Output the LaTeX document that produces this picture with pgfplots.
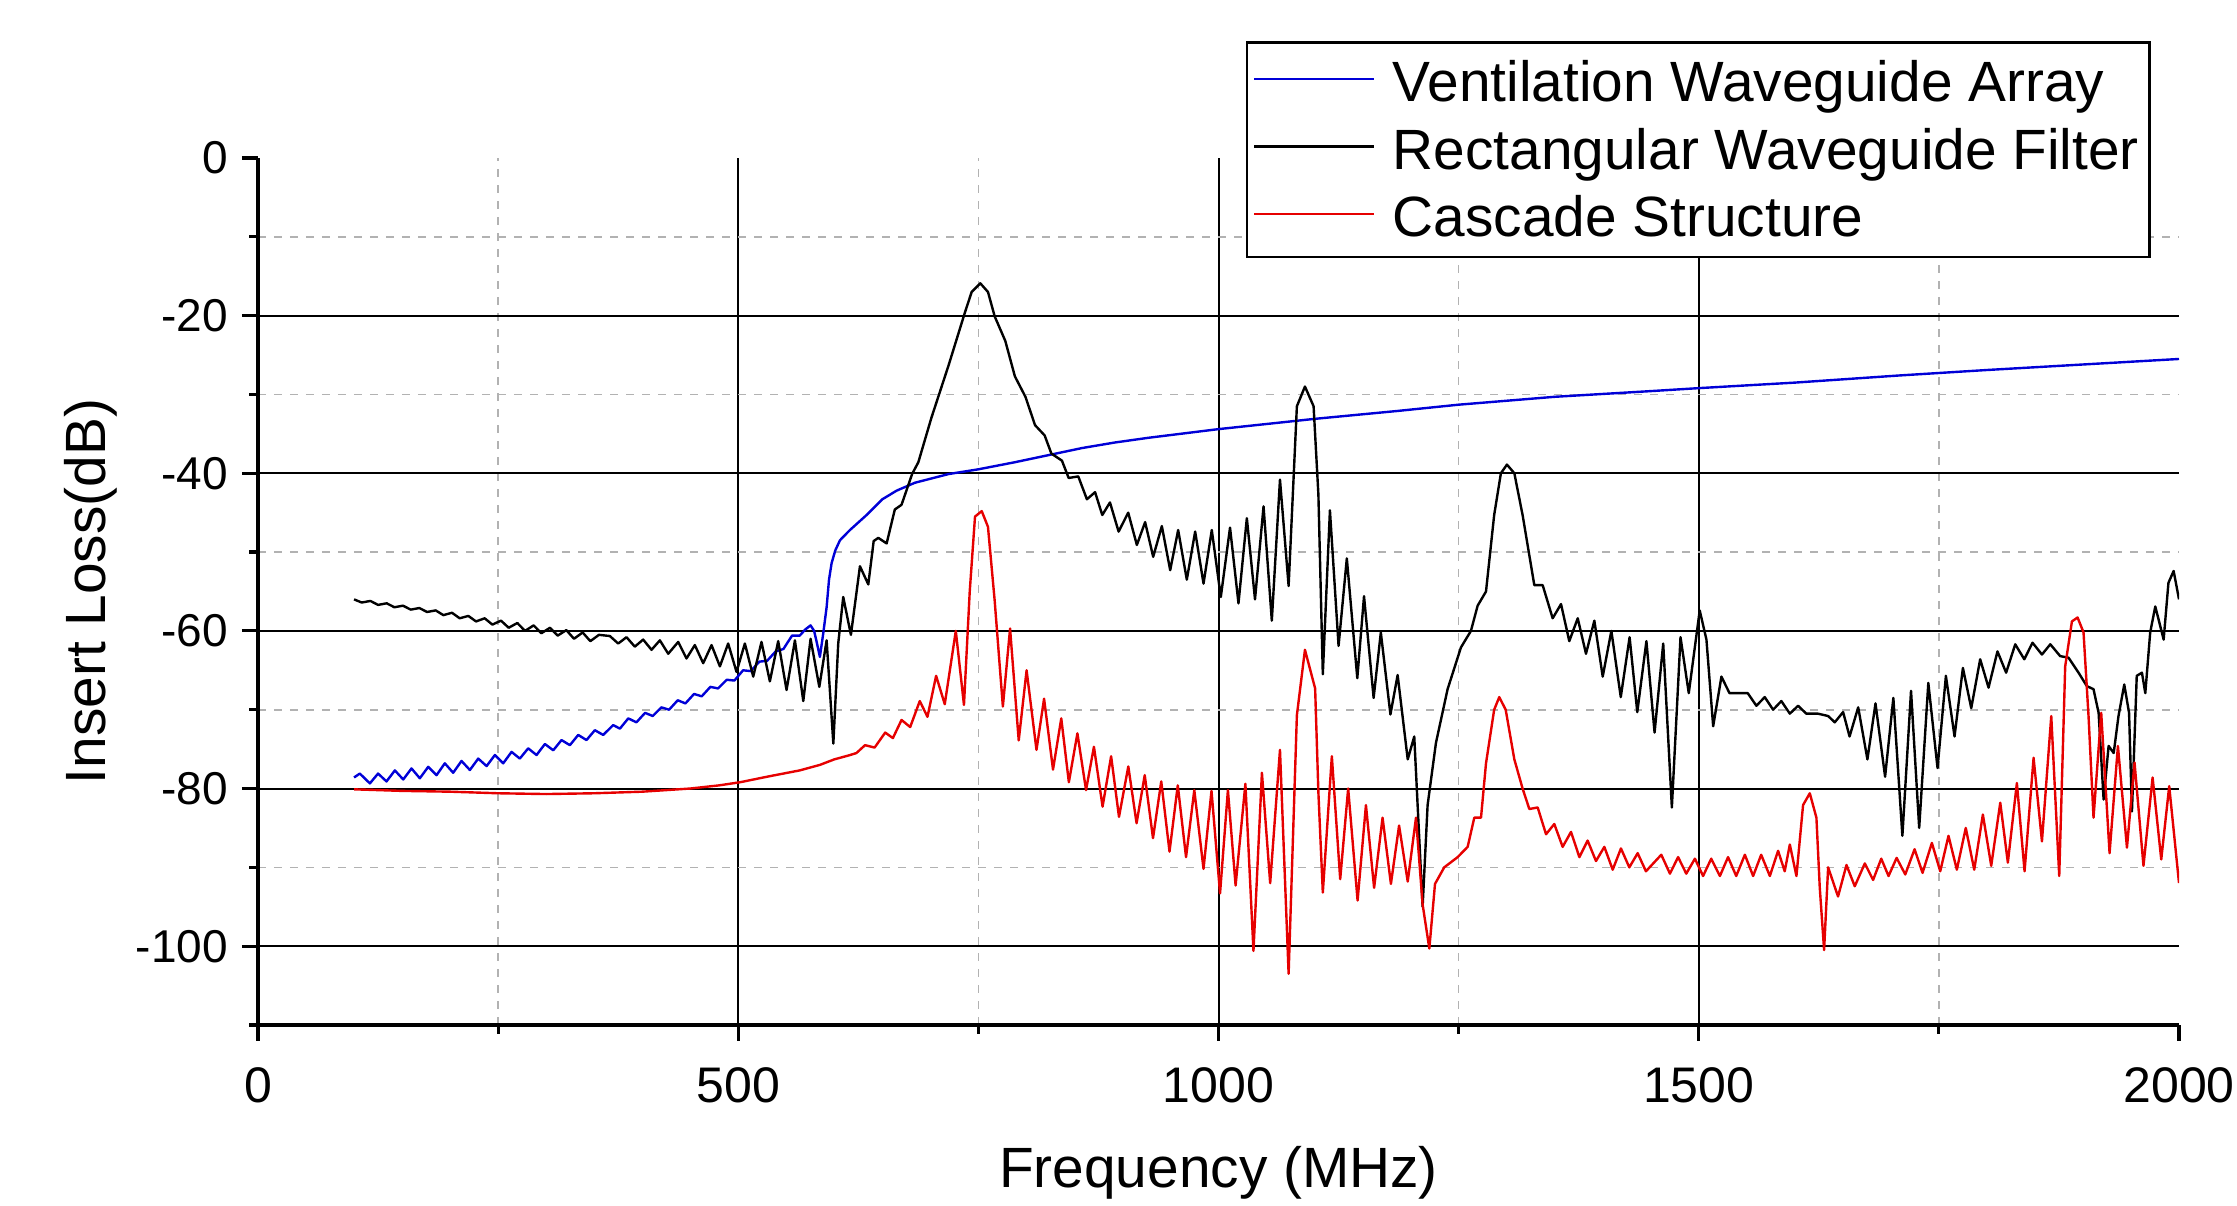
\documentclass[border=0pt]{standalone}
\usepackage{fontspec}
\setmainfont{Liberation Sans}
\usepackage{pgfplots}
\pgfplotsset{compat=1.18}
\definecolor{vwa}{RGB}{0,0,215}
\definecolor{cas}{RGB}{230,0,0}

\begin{document}
\begin{tikzpicture}
\begin{axis}[
    scale only axis,
    width=480.25pt, height=216.75pt,
    xmin=0, xmax=2000, ymin=-110, ymax=0,
    axis lines=left,
    axis line style={-, line width=1.1pt},
    tick align=outside,
    tick style={black, line width=0.8pt},
    major tick length=4pt, minor tick length=2.2pt,
    xtick={500,1000,1500}, extra x ticks={0,2000},
    ytick={-100,-80,-60,-40,-20}, extra y ticks={0},
    extra tick style={grid=none},
    minor xtick={250,750,1250,1750},
    minor ytick={-110,-90,-70,-50,-30,-10},
    grid=both,
    major grid style={black, line width=0.5pt},
    minor grid style={gray!60, dash pattern=on 2pt off 2pt, line width=0.4pt},
    /pgf/number format/assume math mode=true,
    /pgf/number format/1000 sep={},
    xticklabel style={font=\fontsize{12.5}{14}\selectfont, yshift=-3pt},
    yticklabel style={font=\fontsize{11.5}{13}\selectfont},
    label style={font=\fontsize{14.2}{17}\selectfont},
    xlabel={Frequency (MHz)},
    ylabel={Insert Loss(dB)},
    xlabel shift=-4pt,
    ylabel shift=-10.3pt,
    legend style={draw=black, line width=0.6pt, fill=white,
        at={(1,1)}, anchor=north east, xshift=-7.1pt, yshift=29.2pt,
        font=\fontsize{14.2}{17}\selectfont,
        inner sep=1.6pt, row sep=0.3pt,
        nodes={inner sep=1pt, text height=12.2pt, text depth=2.4pt},
        /tikz/every odd column/.append style={column sep=3.3pt}},
    legend cell align=left,
    legend image code/.code={\draw[#1] (0pt,0.8pt) -- (30pt,0.8pt);},
    every axis plot/.append style={line width=0.6pt, line join=round},
]
% Ventilation Waveguide Array
\addplot[color=vwa] coordinates {
(100,-78.6) (106,-78.1) (116.5,-79.35) (125,-78.1) (133.8,-79.1) (142.5,-77.7)
(151.2,-78.85) (159.8,-77.45) (168.5,-78.7) (177.2,-77.25) (185.9,-78.3) (194.5,-76.8)
(203.2,-78.0) (211.9,-76.5) (220.6,-77.65) (229.3,-76.2) (238,-77.15) (246.6,-75.75)
(255.3,-76.8) (264,-75.35) (272.6,-76.2) (281.3,-74.9) (290,-75.75) (298.7,-74.35)
(307.4,-75.15) (316,-73.85) (324.7,-74.5) (333.4,-73.2) (342,-73.85) (350.7,-72.6)
(359.4,-73.2) (369.8,-71.95) (376.8,-72.4) (385.5,-71.1) (394,-71.6) (403,-70.4)
(411,-70.8) (420,-69.7) (428,-70.0) (437,-68.8) (445,-69.2) (454,-68.0) (462,-68.3)
(471,-67.1) (479,-67.3) (488,-66.2) (496,-66.3) (505,-65.0) (513,-65.1) (522,-63.9)
(530,-63.8) (539,-62.6) (547,-62.3) (556,-60.6) (564,-60.6) (570,-59.8) (575.3,-59.3)
(579,-60.0) (582,-61.6) (585,-63.3) (588.5,-60.3) (592,-57.0) (594.5,-53.5) (597.2,-51.4)
(601,-49.8) (605.9,-48.5) (616.3,-47.2) (633.6,-45.3) (650,-43.3) (665,-42.2) (684,-41.2)
(719,-40.1) (750,-39.5) (788,-38.6) (823,-37.7) (858,-36.8) (892,-36.1) (927,-35.5)
(1000,-34.4) (1100,-33.1) (1186,-32.1) (1250,-31.3) (1350,-30.3) (1447,-29.6) (1500,-29.2)
(1600,-28.5) (1708,-27.6) (1800,-26.9) (1900,-26.2) (2000,-25.5)
};
% Rectangular Waveguide Filter
\addplot[color=black] coordinates {
(100,-56.0) (108,-56.4) (117,-56.2) (125,-56.7) (134,-56.5) (142,-57.0) (151,-56.8)
(159,-57.3) (168,-57.1) (176,-57.6) (185,-57.4) (193,-58.0) (202,-57.7) (210,-58.4)
(219,-58.1) (227,-58.8) (236,-58.4) (244,-59.2) (253,-58.7) (261,-59.6) (270,-59.0)
(278,-60.0) (287,-59.3) (295,-60.3) (304,-59.6) (312,-60.6) (321,-59.9) (329,-61.0)
(338,-60.2) (346,-61.3) (355,-60.5) (366.3,-60.65) (375,-61.6) (383.7,-60.8) (392.3,-62.0)
(401,-61.1) (409.7,-62.4) (418.4,-61.2) (427.1,-62.9) (437.5,-61.4) (446.1,-63.5)
(454.8,-61.8) (463.5,-64.1) (472.2,-61.8) (480.9,-64.5) (489.5,-61.6) (498.2,-65.2)
(506.9,-61.6) (515.6,-65.8) (524.2,-61.4) (532.9,-66.4) (541.6,-61.3) (550.3,-67.5)
(559,-61.2) (567.7,-68.9) (575.3,-61.0) (584.4,-67.1) (592,-61.2) (599,-74.3) (604.1,-61.6)
(609.3,-55.7) (617.3,-60.5) (626.7,-51.8) (635.4,-54.1) (641,-48.6) (645.8,-48.2)
(654.5,-48.9) (663,-44.6) (670,-44.0) (681,-40.1) (687.5,-38.6) (701,-33.0) (719,-26.3)
(736,-19.6) (743,-17.0) (752,-15.9) (760,-17.0) (767,-20.1) (778,-23.2) (788,-27.7)
(799,-30.3) (809,-33.9) (819,-35.2) (826,-37.5) (837,-38.4) (844,-40.6) (854,-40.4)
(863,-43.3) (871.5,-42.4) (879,-45.3) (887,-43.7) (896,-47.4) (906,-45.0) (915,-49.1)
(923.6,-46.2) (932,-50.6) (941,-46.7) (949.7,-52.3) (958,-47.2) (967,-53.5) (975.7,-47.4)
(984.4,-54.0) (993,-47.2) (1002.4,-55.7) (1012,-46.9) (1020.8,-56.5) (1029.5,-45.7)
(1038,-56.0) (1046.9,-44.2) (1055.5,-58.7) (1064,-40.8) (1073,-54.3) (1081.6,-31.5)
(1090,-29.0) (1099,-31.5) (1104,-42.7) (1108.6,-65.5) (1116,-44.7) (1125,-61.9)
(1133.6,-50.8) (1144.5,-66.0) (1151.5,-55.6) (1161.5,-68.5) (1169,-60.2) (1179,-70.6)
(1186.5,-65.6) (1197,-76.3) (1203.8,-73.4) (1212.5,-95.0) (1217.7,-82.1) (1226.4,-74.2)
(1238.5,-67.4) (1252.4,-62.1) (1262.8,-60.0) (1269.8,-56.8) (1278.5,-55.0) (1287,-45.3)
(1294,-40.0) (1300.3,-38.9) (1308,-40.0) (1316.6,-45.3) (1328.8,-54.2) (1337.5,-54.2)
(1347.9,-58.4) (1356.6,-56.6) (1365.2,-61.3) (1374,-58.4) (1382.6,-62.9) (1391.3,-58.7)
(1400,-65.8) (1409,-60.0) (1418.8,-68.4) (1428,-60.8) (1436,-70.3) (1445.5,-61.3)
(1454,-72.9) (1463,-61.6) (1472,-82.4) (1481,-60.8) (1489.6,-67.9) (1501,-57.4)
(1508,-61.1) (1515,-72.1) (1523.6,-65.8) (1532,-67.9) (1541,-67.9) (1551,-67.9)
(1560,-69.5) (1568.7,-68.4) (1577.4,-70.0) (1586,-68.9) (1594.8,-70.5) (1603.4,-69.5)
(1612,-70.5) (1624,-70.5) (1634.7,-70.8) (1641.6,-71.6) (1650.3,-70.3) (1657,-73.4)
(1666,-69.7) (1675.6,-76.3) (1684,-69.2) (1694,-78.5) (1702.6,-68.5) (1712,-86.0)
(1721,-67.6) (1729.5,-85.0) (1739,-66.6) (1748.6,-77.4) (1757.3,-65.7) (1766.3,-73.4)
(1775,-64.7) (1783.7,-69.8) (1793,-63.6) (1801.7,-67.2) (1811,-62.6) (1820,-65.3)
(1829.5,-61.7) (1838.9,-63.6) (1847.5,-61.5) (1857.3,-63.0) (1866,-61.7) (1876.3,-63.2)
(1885,-63.4) (1895.4,-65.3) (1904,-67.0) (1911,-67.4) (1916.3,-70.4) (1921.5,-81.4)
(1926.7,-74.6) (1932,-75.5) (1937,-70.8) (1943,-66.8) (1948,-70.4) (1951,-82.9)
(1956,-65.7) (1961.4,-65.3) (1964.9,-67.9) (1970,-60.2) (1975.3,-56.9) (1984,-61.1)
(1989,-53.9) (1994.4,-52.4) (2000,-56.0)
};
% Cascade Structure
\addplot[color=cas] coordinates {
(100,-80.1) (150,-80.3) (200,-80.4) (250,-80.6) (300,-80.7) (350,-80.6) (400,-80.4)
(450,-80.0) (480,-79.6) (502,-79.2) (530,-78.5) (564,-77.7) (585,-77.0) (600,-76.3)
(615,-75.8) (623,-75.5) (632,-74.5) (642,-74.8) (653,-72.9) (661,-73.6) (670,-71.3)
(679,-72.2) (689,-68.9) (697,-70.9) (706,-65.7) (715,-69.3) (726.5,-60.0) (735,-69.4)
(741,-55.0) (746.5,-45.5) (753.5,-44.8) (760,-46.8) (767,-56.2) (775.5,-69.6) (783,-59.7)
(792,-73.9) (800.2,-65.0) (810.5,-75.1) (818.4,-68.6) (827.7,-77.6) (836.3,-71.1)
(844.2,-79.2) (853.1,-73.0) (862.1,-80.2) (870.3,-74.7) (879.3,-82.3) (888.2,-75.9)
(896.4,-83.6) (906.1,-77.2) (914.7,-84.4) (923.2,-78.3) (931.8,-86.3) (940.4,-79.1)
(949,-88.0) (957.6,-79.6) (966.2,-88.7) (974.8,-80.2) (984.4,-90.2) (992.7,-80.3)
(1001.6,-93.3) (1009.8,-80.2) (1017.8,-92.3) (1028,-79.4) (1036.4,-100.6) (1045.2,-78.0)
(1053.8,-92.0) (1064,-75.1) (1073,-103.5) (1081.6,-70.7) (1090,-62.4) (1100.6,-67.3)
(1104,-80.5) (1108.6,-93.2) (1118,-75.9) (1126.7,-91.5) (1135,-80.0) (1144.8,-94.2)
(1153.5,-82.1) (1162,-92.6) (1170.8,-83.7) (1179.5,-92.1) (1188,-84.7) (1197,-91.8)
(1205.6,-83.7) (1212.5,-94.7) (1219.5,-100.3) (1225.4,-92.1) (1235,-90.0) (1249,-88.7)
(1259.4,-87.4) (1266.3,-83.7) (1273.3,-83.7) (1278.5,-76.8) (1287,-70.0) (1292.3,-68.4)
(1299,-70.0) (1308,-76.3) (1316.6,-80.0) (1323.6,-82.6) (1332.3,-82.4) (1341,-85.8)
(1349.6,-84.5) (1358.3,-87.4) (1367,-85.5) (1375.7,-88.7) (1384.3,-86.6) (1393,-89.2)
(1401.7,-87.4) (1410.4,-90.3) (1419,-87.6) (1427.7,-90.0) (1436.4,-88.2) (1445,-90.5)
(1461,-88.4) (1470,-90.8) (1478.5,-88.7) (1487,-90.8) (1496,-88.9) (1504.5,-91.1)
(1513,-88.9) (1522,-91.1) (1530.5,-88.7) (1539,-91.1) (1548,-88.4) (1556.6,-91.1)
(1565,-88.4) (1574,-91.1) (1582.6,-87.9) (1589.5,-90.5) (1594.8,-87.1) (1601.7,-91.1)
(1608.6,-82.1) (1615.6,-80.6) (1622.5,-83.7) (1626,-92.6) (1630.5,-100.5) (1634.7,-90.0)
(1645,-93.7) (1653.8,-89.7) (1662.4,-92.4) (1672.9,-89.5) (1681.5,-91.6) (1690,-88.9)
(1697.6,-91.1) (1706,-88.8) (1715,-90.9) (1724.7,-87.7) (1733,-90.7) (1742.7,-86.9)
(1751.4,-90.5) (1760,-86.0) (1768.7,-90.3) (1778,-85.0) (1786.8,-90.3) (1795.8,-83.3)
(1804.5,-89.8) (1813.9,-81.8) (1821.8,-89.4) (1831.2,-79.3) (1839.2,-90.5) (1848.6,-76.1)
(1857.3,-86.7) (1867,-70.8) (1875.3,-91.1) (1881.5,-64.5) (1888.5,-58.8) (1894.4,-58.3)
(1900.6,-60.2) (1905.8,-70.8) (1911,-83.7) (1919,-70.4) (1927.7,-88.2) (1936.4,-74.6)
(1945.8,-87.5) (1953.7,-76.7) (1963,-89.8) (1972.5,-78.6) (1981.5,-89.0) (1989.8,-79.7)
(2000,-92.0)
};
\legend{Ventilation Waveguide Array, Rectangular Waveguide Filter, Cascade Structure}
\coordinate (tl) at (rel axis cs:0,1);
\coordinate (br) at (rel axis cs:1,0);
\end{axis}
\pgfresetboundingbox
\path ([xshift=-64.5pt,yshift=39.5pt]tl) rectangle ([xshift=14.5pt,yshift=-45.25pt]br);
\end{tikzpicture}
\end{document}
